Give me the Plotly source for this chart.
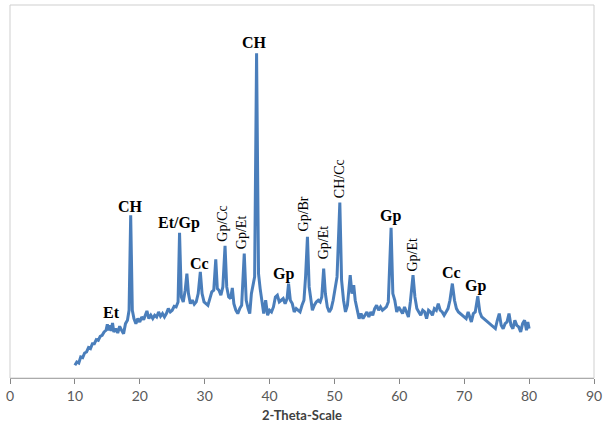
import plotly.graph_objects as go

two_theta = [
    10.0, 10.3, 10.6, 10.9, 11.2, 11.5, 11.8, 12.1, 12.4, 12.7, 13.0, 13.3, 13.6, 13.9, 14.2, 14.5, 14.8,
    15.0, 15.2, 15.4, 15.6, 15.8, 16.0, 16.3, 16.6, 16.9, 17.2, 17.5, 17.8, 18.1, 18.35, 18.6, 18.85,
    19.1, 19.4, 19.7, 20.0, 20.3, 20.6, 20.9, 21.1, 21.4, 21.7, 22.0, 22.3, 22.6, 22.9, 23.2, 23.5,
    23.8, 24.1, 24.4, 24.7, 25.0, 25.3, 25.6, 25.9, 26.13, 26.4, 26.7, 27.0, 27.26, 27.5, 27.8, 28.1,
    28.4, 28.7, 29.0, 29.33, 29.6, 29.9, 30.2, 30.5, 30.8, 31.1, 31.4, 31.71, 31.95, 32.2, 32.5, 32.8,
    33.14, 33.4, 33.7, 34.0, 34.26, 34.5, 34.8, 35.1, 35.4, 35.7, 36.1, 36.4, 36.7, 36.95, 37.2, 37.45,
    37.7, 38.0, 38.3, 38.55, 38.8, 39.1, 39.4, 39.7, 40.0, 40.3, 40.6, 40.9, 41.2, 41.5, 41.8, 42.1,
    42.4, 42.7, 42.93, 43.2, 43.5, 43.8, 44.1, 44.4, 44.7, 45.0, 45.3, 45.55, 45.84, 46.1, 46.35, 46.6,
    46.9, 47.2, 47.5, 47.8, 48.05, 48.34, 48.6, 48.9, 49.2, 49.5, 49.8, 50.1, 50.4, 50.83, 51.1, 51.4,
    51.7, 52.0, 52.2, 52.43, 52.7, 52.97, 53.2, 53.5, 53.8, 54.1, 54.4, 54.7, 55.0, 55.3, 55.6, 55.9,
    56.2, 56.5, 56.8, 57.1, 57.4, 57.7, 58.0, 58.3, 58.73, 59.0, 59.3, 59.6, 59.9, 60.2, 60.5, 60.8,
    61.1, 61.4, 61.7, 62.11, 62.4, 62.7, 63.0, 63.3, 63.6, 63.9, 64.2, 64.5, 64.8, 65.1, 65.4, 65.7,
    66.0, 66.3, 66.6, 66.9, 67.2, 67.5, 67.8, 68.17, 68.5, 68.8, 69.1, 69.4, 69.7, 70.0, 70.3, 70.6,
    70.9, 71.1, 71.4, 71.7, 72.09, 72.4, 72.7, 73.0, 73.3, 73.6, 73.9, 74.2, 74.5, 74.8, 75.1, 75.4,
    75.7, 76.0, 76.3, 76.6, 76.9, 77.2, 77.5, 77.8, 78.1, 78.4, 78.7, 79.0, 79.3, 79.6, 79.8, 80.0,
]

intensity = [
    38, 48, 45, 63, 61, 75, 78, 91, 88, 103, 103, 115, 113, 125, 128, 138, 143,
    161, 143, 158, 141, 165, 138, 148, 135, 155, 143, 133, 163, 173, 203, 488, 203,
    178, 163, 178, 168, 183, 175, 188, 201, 178, 188, 178, 188, 183, 198, 185, 193,
    183, 193, 208, 198, 203, 215, 213, 228, 435, 243, 228, 263, 313, 253, 223, 233,
    221, 228, 253, 318, 253, 228, 223, 218, 238, 258, 263, 356, 268, 263, 248, 273,
    396, 273, 243, 238, 270, 223, 203, 193, 208, 218, 373, 233, 208, 193, 253, 283,
    303, 973, 313, 268, 233, 193, 233, 188, 203, 198, 213, 243, 248, 228, 233, 238,
    223, 238, 283, 233, 223, 198, 208, 203, 198, 218, 233, 303, 423, 273, 228, 203,
    218, 228, 233, 228, 243, 328, 253, 213, 198, 208, 233, 268, 303, 526, 293, 233,
    198, 218, 253, 308, 253, 278, 233, 203, 178, 193, 178, 188, 198, 183, 198, 188,
    208, 218, 203, 213, 203, 208, 213, 228, 450, 253, 233, 198, 213, 203, 193, 213,
    198, 183, 228, 308, 243, 208, 198, 188, 203, 198, 178, 203, 198, 188, 208, 203,
    223, 203, 198, 188, 198, 208, 233, 283, 233, 208, 198, 193, 188, 183, 178, 198,
    178, 168, 193, 198, 245, 198, 183, 178, 173, 168, 163, 158, 153, 148, 173, 193,
    158, 148, 163, 168, 193, 158, 148, 173, 158, 153, 138, 163, 173, 143, 168, 148,
]

x_ticks = [0, 10, 20, 30, 40, 50, 60, 70, 80, 90]

# phase labels: text, 2-theta, height, rotated?
label_text = ["Et", "CH", "Et/Gp", "Cc", "Gp/Cc", "Gp/Et", "CH", "Gp", "Gp/Br", "Gp/Et",
              "CH/Cc", "Gp", "Gp/Et", "Cc", "Gp"]
label_theta = [15.6, 18.6, 26.1, 29.2, 32.7, 35.8, 37.7, 42.2, 45.3, 48.3,
               50.8, 58.7, 62.1, 68.0, 71.7]
label_height = [196, 513, 466, 343, 463, 438, 1005, 313, 493, 408,
                598, 486, 370, 315, 276]
label_rotated = [False, False, False, False, True, True, False, False, True, True,
                 True, False, True, False, False]

fig = go.Figure()
fig.add_trace(go.Scatter(
    x=two_theta, y=intensity, mode="lines",
    line=dict(color="#4A7EBB", width=3),
    showlegend=False, hoverinfo="skip",
))

for t, xv, yv, rot in zip(label_text, label_theta, label_height, label_rotated):
    if rot:
        fig.add_annotation(x=xv, y=yv, text=t, showarrow=False, textangle=-90,
                           font=dict(family="Liberation Serif", size=14, color="#000000"))
    else:
        fig.add_annotation(x=xv, y=yv, text="<b>" + t + "</b>", showarrow=False,
                           font=dict(family="Liberation Serif", size=16, color="#000000"))

fig.add_shape(type="rect", xref="paper", yref="paper", x0=0, x1=1, y0=0, y1=1,
              line=dict(color="#CFCFCF", width=1), layer="above")

fig.update_layout(
    width=607, height=432,
    margin=dict(l=10, r=9, t=5, b=54),
    paper_bgcolor="white", plot_bgcolor="white",
    xaxis=dict(
        range=[0, 90], tickvals=x_ticks, ticktext=[str(v) for v in x_ticks],
        showline=True, linecolor="#868686", linewidth=1, layer="above traces",
        ticks="outside", ticklen=5, tickcolor="#868686",
        showgrid=False, zeroline=False,
        tickfont=dict(family="Lato", size=14, color="#595959"),
        title=dict(text="<b>2-Theta-Scale</b>", standoff=8,
                   font=dict(family="Lato", size=13, color="#404040")),
    ),
    yaxis=dict(
        range=[0, 1118], showticklabels=False, showgrid=False, zeroline=False,
        showline=False, ticks="",
    ),
)

fig.write_html("out.html", config={"displayModeBar": False},
               post_script="document.body.style.margin='0';")
